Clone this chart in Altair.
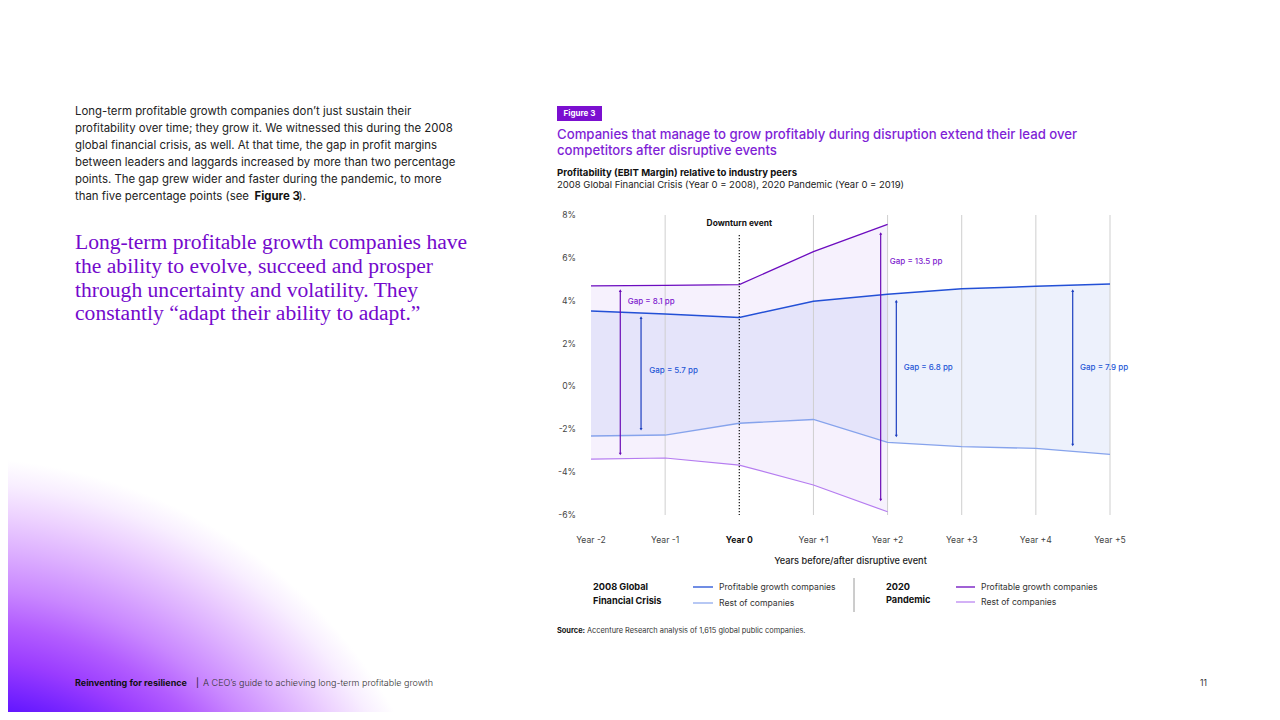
import altair as alt
import pandas as pd

# ---------------- data ----------------
years = [-2, -1, 0, 1, 2, 3, 4, 5]
x_labels = ["Year -2", "Year -1", "Year 0", "Year +1", "Year +2", "Year +3", "Year +4", "Year +5"]
gfc_leaders = [3.52, 3.38, 3.22, 3.98, 4.30, 4.56, 4.67, 4.78]
gfc_rest = [-2.31, -2.27, -1.72, -1.54, -2.61, -2.81, -2.89, -3.17]

pan_years = [-2, -1, 0, 1, 2]
pan_leaders = [4.69, 4.72, 4.75, 6.29, 7.56]
pan_rest = [-3.39, -3.34, -3.67, -4.60, -5.85]

grid_years = [-1, 1, 2, 3, 4, 5]
y_ticks = [-6, -4, -2, 0, 2, 4, 6, 8]
y_labels = ["-6%", "-4%", "-2%", "0%", "2%", "4%", "6%", "8%"]

gap_labels = ["Gap = 8.1 pp", "Gap = 5.7 pp", "Gap = 13.5 pp", "Gap = 6.8 pp", "Gap = 7.9 pp"]
gap_series = ["pan", "gfc", "pan", "gfc", "gfc"]

# annotation placement (data units)
gap_x = [-1.605, -1.325, 1.907, 2.118, 4.497]
gap_top = [4.47, 3.21, 7.14, 3.98, 4.47]
gap_bottom = [-3.15, -2.00, -5.30, -2.31, -2.73]
gap_label_x = [-1.505, -1.214, 2.03, 2.217, 4.596]
gap_label_y = [3.95, 0.72, 5.80, 0.86, 0.86]

# ---------------- styling ----------------
SANS = "Inter"
SERIF = "Liberation Serif"
PURPLE = "#7409cc"
C_GFC_LEAD = "#2350d6"
C_GFC_REST = "#86a3ec"
C_PAN_LEAD = "#6c0cbf"
C_PAN_REST = "#b57cf0"

X0, Y0 = 591, 215       # page position of plot origin
W, H = 519, 300

xscale = alt.Scale(domain=[-2, 5], nice=False, zero=False)
yscale = alt.Scale(domain=[-6, 8], nice=False, zero=False)


def XQ(field):
    return alt.X(field, type="quantitative", scale=xscale, axis=None)


def YQ(field):
    return alt.Y(field, type="quantitative", scale=yscale, axis=None)


def px(x):
    return alt.value(x - X0)


def py(y):
    return alt.value(y - Y0)


def text(t, x, y, size, color="#222222", weight="normal", font=SANS, align="left"):
    return alt.Chart(alt.Data(values=[{"t": t}])).mark_text(
        font=font, fontSize=size, fontWeight=weight, color=color,
        align=align, baseline="middle",
    ).encode(x=px(x), y=py(y), text="t:N")


def seg(x1, x2, y1, y2, color, width=1.0):
    return alt.Chart(alt.Data(values=[{}])).mark_rule(color=color, strokeWidth=width).encode(
        x=px(x1), x2=px(x2), y=py(y1), y2=py(y2))


layers = []

# ---------------- background gradient blob ----------------
S = 412
gx, gy = 8, 712 - S
cx, cy, R = -40, 958, 500
grad = alt.RadialGradient(
    gradient="radial",
    x1=(cx - gx) / S, y1=(cy - gy) / S, r1=0,
    x2=(cx - gx) / S, y2=(cy - gy) / S, r2=R / S,
    stops=[
        alt.GradientStop(offset=0.0, color="#4a0cff"),
        alt.GradientStop(offset=0.45, color="#5a12ff"),
        alt.GradientStop(offset=0.50, color="#6216ff"),
        alt.GradientStop(offset=0.60, color="#9a3cff"),
        alt.GradientStop(offset=0.67, color="#b25cff"),
        alt.GradientStop(offset=0.74, color="#c987ff"),
        alt.GradientStop(offset=0.82, color="#ddb0ff"),
        alt.GradientStop(offset=0.89, color="#edd2ff"),
        alt.GradientStop(offset=0.95, color="#f8eeff"),
        alt.GradientStop(offset=1.0, color="#ffffff"),
    ],
)
layers.append(
    alt.Chart(alt.Data(values=[{}])).mark_rect(fill=grad, strokeWidth=0).encode(
        x=px(gx), x2=px(gx + S), y=py(gy), y2=py(gy + S))
)

# ---------------- left column text ----------------
para = [
    "Long-term profitable growth companies don’t just sustain their",
    "profitability over time; they grow it. We witnessed this during the 2008",
    "global financial crisis, as well. At that time, the gap in profit margins",
    "between leaders and laggards increased by more than two percentage",
    "points. The gap grew wider and faster during the pandemic, to more",
]
para_y = [112.3, 129.2, 146.0, 162.8, 179.6]
for t, yy in zip(para, para_y):
    layers.append(text(t, 75, yy, 11.4))
layers.append(text("than five percentage points (see ", 75, 196.5, 11.4))
layers.append(text("Figure 3", 254.5, 196.5, 11.4, weight="bold", color="#111111"))
layers.append(text(").", 298.5, 196.5, 11.4))

quote = [
    "Long-term profitable growth companies have",
    "the ability to evolve, succeed and prosper",
    "through uncertainty and volatility. They",
    "constantly “adapt their ability to adapt.”",
]
quote_y = [243, 267, 290.5, 314]
for t, yy in zip(quote, quote_y):
    layers.append(text(t, 75, yy, 21.6, color=PURPLE, font=SERIF))

# ---------------- figure header ----------------
layers.append(
    alt.Chart(alt.Data(values=[{}])).mark_rect(color="#7b0fd0").encode(
        x=px(557), x2=px(602), y=py(106), y2=py(121))
)
layers.append(text("Figure 3", 579.5, 113.7, 8, color="#ffffff", weight="bold", align="center"))
layers.append(text("Companies that manage to grow profitably during disruption extend their lead over",
                   557, 135, 13.2, color="#7f1fd6", weight=500))
layers.append(text("competitors after disruptive events", 557, 151, 13.2, color="#7f1fd6", weight=500))
layers.append(text("Profitability (EBIT Margin) relative to industry peers", 557, 173, 9.6,
                   color="#111111", weight="bold"))
layers.append(text("2008 Global Financial Crisis (Year 0 = 2008), 2020 Pandemic (Year 0 = 2019)",
                   557, 185, 9.5, color="#222222"))

# ---------------- chart ----------------
gfc_df = pd.DataFrame({"year": years, "leaders": gfc_leaders, "rest": gfc_rest})
pan_df = pd.DataFrame({"year": pan_years, "leaders": pan_leaders, "rest": pan_rest})

gfc_area = alt.Chart(gfc_df).mark_area(color="#edf1fc", opacity=1).encode(
    x=XQ("year"), y=YQ("leaders"), y2="rest:Q")
pan_area = alt.Chart(pan_df).mark_area(color="#7b3fe4", opacity=0.07).encode(
    x=XQ("year"), y=YQ("leaders"), y2="rest:Q")
layers += [gfc_area, pan_area]

grid = alt.Chart(pd.DataFrame({"year": grid_years})).mark_rule(color="#cfcfcf", strokeWidth=1).encode(
    x=XQ("year"), y=alt.value(0), y2=alt.value(H))
layers.append(grid)

# axis labels drawn through the scales
xl_df = pd.DataFrame({"year": years, "label": x_labels})
layers.append(
    alt.Chart(xl_df).transform_filter("datum.year != 0").mark_text(
        font=SANS, fontSize=8.6, color="#444444", baseline="middle").encode(
        x=XQ("year"), y=alt.value(540 - Y0), text="label:N")
)
layers.append(
    alt.Chart(xl_df).transform_filter("datum.year == 0").mark_text(
        font=SANS, fontSize=8.6, color="#111111", fontWeight="bold", baseline="middle").encode(
        x=XQ("year"), y=alt.value(540 - Y0), text="label:N")
)
yl_df = pd.DataFrame({"v": y_ticks, "label": y_labels})
layers.append(
    alt.Chart(yl_df).mark_text(font=SANS, fontSize=8.6, color="#444444", align="right",
                               baseline="middle").encode(
        x=alt.value(576 - X0), y=YQ("v"), text="label:N")
)
layers.append(text("Years before/after disruptive event", X0 + W / 2, 561, 9.2,
                   color="#222222", weight=500, align="center"))

event_df = pd.DataFrame({"year": [0], "top": [7.07], "bottom": [-6], "label_y": [7.63],
                         "label": ["Downturn event"]})
event_line = alt.Chart(event_df).mark_rule(color="#111111", strokeDash=[1.2, 1.8], strokeWidth=1.2).encode(
    x=XQ("year"), y=YQ("top"), y2="bottom:Q")
event_text = alt.Chart(event_df).mark_text(font=SANS, fontSize=8.4, fontWeight="bold",
                                           color="#111111", baseline="middle").encode(
    x=XQ("year"), y=YQ("label_y"), text="label:N")
layers += [event_line, event_text]

series_names = ["gfc_lead", "gfc_rest", "pan_lead", "pan_rest"]
lines_df = pd.concat([
    pd.DataFrame({"year": years, "value": gfc_leaders, "series": "gfc_lead"}),
    pd.DataFrame({"year": years, "value": gfc_rest, "series": "gfc_rest"}),
    pd.DataFrame({"year": pan_years, "value": pan_leaders, "series": "pan_lead"}),
    pd.DataFrame({"year": pan_years, "value": pan_rest, "series": "pan_rest"}),
])
lines = alt.Chart(lines_df).mark_line().encode(
    x=XQ("year"), y=YQ("value"),
    color=alt.Color("series:N", legend=None,
                    scale=alt.Scale(domain=series_names,
                                    range=[C_GFC_LEAD, C_GFC_REST, C_PAN_LEAD, C_PAN_REST])),
    strokeWidth=alt.StrokeWidth("series:N", legend=None,
                                scale=alt.Scale(domain=series_names, range=[1.5, 1.2, 1.5, 1.2])),
    detail="series:N",
)
layers.append(lines)

gap_df = pd.DataFrame({"label": gap_labels, "series": gap_series, "x": gap_x, "top": gap_top,
                       "bottom": gap_bottom, "lx": gap_label_x, "ly": gap_label_y})
arrow_colors = {"pan": "#6a0bb5", "gfc": "#1c3fc0"}
label_colors = {"pan": "#7e22ce", "gfc": "#2557d6"}
for key in ["pan", "gfc"]:
    sub = gap_df[gap_df["series"] == key]
    layers.append(alt.Chart(sub).mark_rule(strokeWidth=1.2, color=arrow_colors[key]).encode(
        x=XQ("x"), y=YQ("top"), y2="bottom:Q"))
    layers.append(alt.Chart(sub).mark_point(shape="triangle-up", filled=True, size=9, opacity=1,
                                            color=arrow_colors[key]).encode(x=XQ("x"), y=YQ("top")))
    layers.append(alt.Chart(sub).mark_point(shape="triangle-down", filled=True, size=9, opacity=1,
                                            color=arrow_colors[key]).encode(x=XQ("x"), y=YQ("bottom")))
    layers.append(alt.Chart(sub).mark_text(font=SANS, fontSize=8, fontWeight=500, align="left",
                                           baseline="middle", color=label_colors[key]).encode(
        x=XQ("lx"), y=YQ("ly"), text="label:N"))

# ---------------- legend ----------------
layers.append(text("2008 Global", 593, 587, 9.2, color="#111111", weight="bold"))
layers.append(text("Financial Crisis", 593, 601, 9.2, color="#111111", weight="bold"))
layers.append(seg(693, 713, 587, 587, C_GFC_LEAD, 1.3))
layers.append(seg(693, 713, 603, 603, C_GFC_REST, 1.2))
layers.append(text("Profitable growth companies", 719, 587, 8.6, color="#333333"))
layers.append(text("Rest of companies", 719, 603, 8.6, color="#333333"))
layers.append(seg(854, 854, 578, 612, "#9a9a9a", 1))
layers.append(text("2020", 886, 587, 9.2, color="#111111", weight="bold"))
layers.append(text("Pandemic", 886, 600, 9.2, color="#111111", weight="bold"))
layers.append(seg(956, 975, 587, 587, C_PAN_LEAD, 1.3))
layers.append(seg(956, 975, 602, 602, C_PAN_REST, 1.2))
layers.append(text("Profitable growth companies", 981, 587, 8.6, color="#333333"))
layers.append(text("Rest of companies", 981, 602, 8.6, color="#333333"))

# ---------------- source & footer ----------------
layers.append(text("Source:", 557, 631, 7.4, color="#111111", weight="bold"))
layers.append(text("Accenture Research analysis of 1,615 global public companies.", 587, 631, 7.4,
                   color="#333333"))
layers.append(text("Reinventing for resilience", 75, 683, 9, color="#111111", weight="bold"))
layers.append(text("|", 196, 683, 9, color="#111111"))
layers.append(text("A CEO’s guide to achieving long-term profitable growth", 203, 683, 9,
                   color="#333333", weight=300))
layers.append(text("11", 1200, 683, 8.5, color="#333333"))

chart = alt.layer(*layers).properties(
    width=W, height=H, background="#ffffff",
    padding={"left": X0 - 8, "top": Y0 - 8, "right": 1272 - (X0 + W), "bottom": 712 - (Y0 + H)},
    autosize=alt.AutoSizeParams(type="none"),
).configure_view(stroke=None)

chart.save("out.html", embed_options={"renderer": "svg", "actions": False})
